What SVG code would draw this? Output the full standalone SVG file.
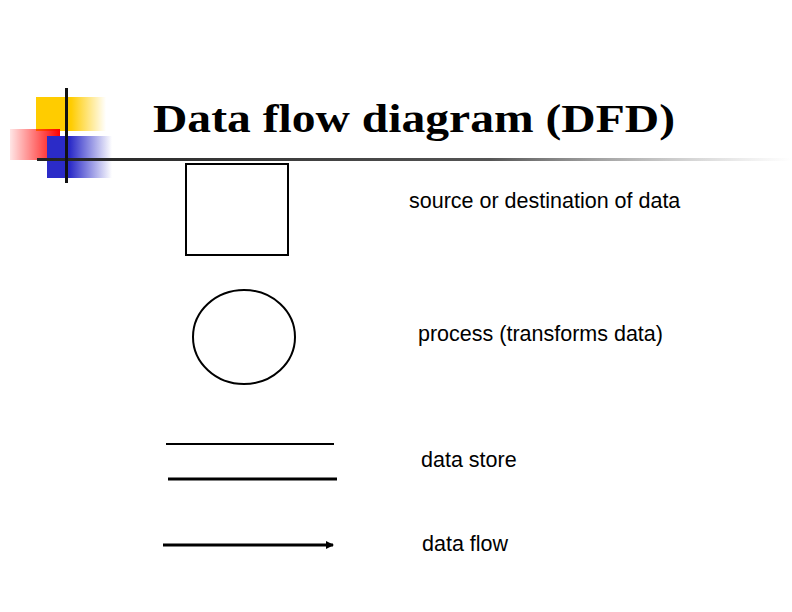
<svg xmlns="http://www.w3.org/2000/svg" width="792" height="612" viewBox="0 0 792 612">
<defs>
<linearGradient id="gy" x1="0" x2="1"><stop offset="0.5" stop-color="#ffcc00"/><stop offset="1" stop-color="#ffcc00" stop-opacity="0"/></linearGradient>
<linearGradient id="gr" x1="1" x2="0"><stop offset="0" stop-color="#ff0000"/><stop offset="1" stop-color="#ff0000" stop-opacity="0.1"/></linearGradient>
<linearGradient id="gb" x1="0" x2="1"><stop offset="0.35" stop-color="#2b2bc8"/><stop offset="1" stop-color="#2b2bc8" stop-opacity="0"/></linearGradient>
<linearGradient id="gl" x1="0" x2="1"><stop offset="0" stop-color="#222"/><stop offset="0.6" stop-color="#555"/><stop offset="1" stop-color="#999" stop-opacity="0"/></linearGradient>
<marker id="ah" markerWidth="8" markerHeight="8" refX="7" refY="4" orient="auto" markerUnits="userSpaceOnUse"><path d="M0,0 L8,4 L0,8 Z" fill="#000"/></marker>
<style>.l{font-family:"Liberation Sans",Arial,sans-serif;font-size:21.5px;fill:#000}</style>
</defs>
<rect width="792" height="612" fill="#fff"/>
<g id="logo">
<rect x="36" y="97" width="70" height="34" fill="url(#gy)"/>
<rect x="10" y="129" width="50" height="31" fill="url(#gr)"/>
<rect x="47" y="136" width="65" height="42" fill="url(#gb)"/>
<rect x="37" y="158" width="755" height="3" fill="url(#gl)"/>
<rect x="65" y="88" width="3" height="95" fill="#111"/>
</g>
<text x="153" y="132" font-family="'Liberation Serif',serif" font-weight="bold" font-size="40" fill="#000" textLength="522" lengthAdjust="spacingAndGlyphs">Data flow diagram (DFD)</text>
<g id="source"><rect x="186" y="164" width="102" height="91" fill="none" stroke="#000" stroke-width="2"/><text class="l" x="409" y="208">source or destination of data</text></g>
<g id="process"><ellipse cx="244" cy="337" rx="51" ry="47" fill="none" stroke="#000" stroke-width="2"/><text class="l" x="418" y="341">process (transforms data)</text></g>
<g id="store"><line x1="166" y1="444" x2="334" y2="444" stroke="#000" stroke-width="2"/><line x1="168" y1="479" x2="337" y2="479" stroke="#000" stroke-width="3"/><text class="l" x="421" y="467">data store</text></g>
<g id="connectors"><line x1="163" y1="545" x2="333" y2="545" stroke="#000" stroke-width="3" marker-end="url(#ah)"/></g>
<g id="flow"><text class="l" x="422" y="551">data flow</text></g>
</svg>
